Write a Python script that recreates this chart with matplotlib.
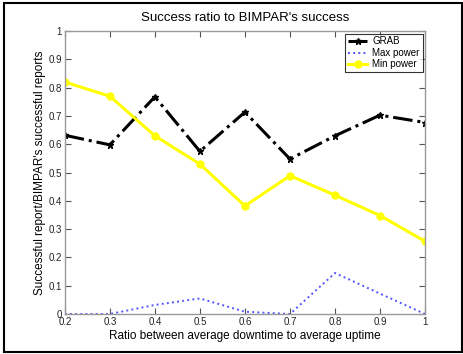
import numpy as np
import matplotlib.pyplot as plt
from matplotlib.patches import Rectangle

plt.rcParams['font.family'] = ['Liberation Sans', 'DejaVu Sans']

ratio = [0.2, 0.3, 0.4, 0.5, 0.6, 0.7, 0.8, 0.9, 1.0]
grab = [0.632, 0.598, 0.768, 0.575, 0.714, 0.548, 0.630, 0.703, 0.677]
max_power = [0.0, 0.0, 0.032, 0.055, 0.008, 0.0, 0.145, 0.072, 0.0]
min_power = [0.820, 0.770, 0.630, 0.530, 0.382, 0.489, 0.420, 0.348, 0.257]

xticks = [0.2, 0.3, 0.4, 0.5, 0.6, 0.7, 0.8, 0.9, 1]
yticks = [0, 0.1, 0.2, 0.3, 0.4, 0.5, 0.6, 0.7, 0.8, 0.9, 1]

fig = plt.figure(figsize=(4.63, 3.54), dpi=100)
ax = fig.add_axes([0.140, 0.113, 0.778, 0.799])

ax.plot(ratio, grab, color='black', linestyle='-.', linewidth=2.2,
        marker='*', markersize=4.5, label='GRAB')
ax.plot(ratio, max_power, color='#5555ff', linestyle=':', linewidth=1.4,
        label='Max power')
ax.plot(ratio, min_power, color='#ffff00', linestyle='-', linewidth=2.2,
        marker='o', markersize=5, label='Min power')

ax.set_xlim(0.2, 1)
ax.set_ylim(0, 1)
ax.set_xticks(xticks)
ax.set_xticklabels(['0.2', '0.3', '0.4', '0.5', '0.6', '0.7', '0.8', '0.9', '1'])
ax.set_yticks(yticks)
ax.set_yticklabels(['0', '0.1', '0.2', '0.3', '0.4', '0.5', '0.6', '0.7', '0.8', '0.9', '1'])
ax.tick_params(direction='in', length=4, width=0.8, colors='#555555',
               labelsize=7, labelcolor='#222222', top=True, right=True, pad=2)
for s in ax.spines.values():
    s.set_color('#999999')
    s.set_linewidth(1.0)

ax.set_title("Success ratio to BIMPAR's success", fontsize=9.5, pad=7)
ax.set_xlabel('Ratio between average downtime to average uptime', fontsize=8.5, labelpad=2)
ax.set_ylabel("Successful report/BIMPAR's successful reports", fontsize=8.5, labelpad=2)

leg = ax.legend(loc='upper right', fontsize=7, frameon=True, fancybox=False,
                borderaxespad=0.25, handlelength=2.0, handletextpad=0.5,
                labelspacing=0.15, borderpad=0.3)
leg.get_frame().set_edgecolor('black')
leg.get_frame().set_linewidth(0.8)

# outer frame around the whole figure
fig.patches.append(Rectangle((0.009, 0.006), 0.988, 0.985, transform=fig.transFigure,
                             fill=False, edgecolor='black', linewidth=1.5))

fig.savefig('out.png', dpi=100)
